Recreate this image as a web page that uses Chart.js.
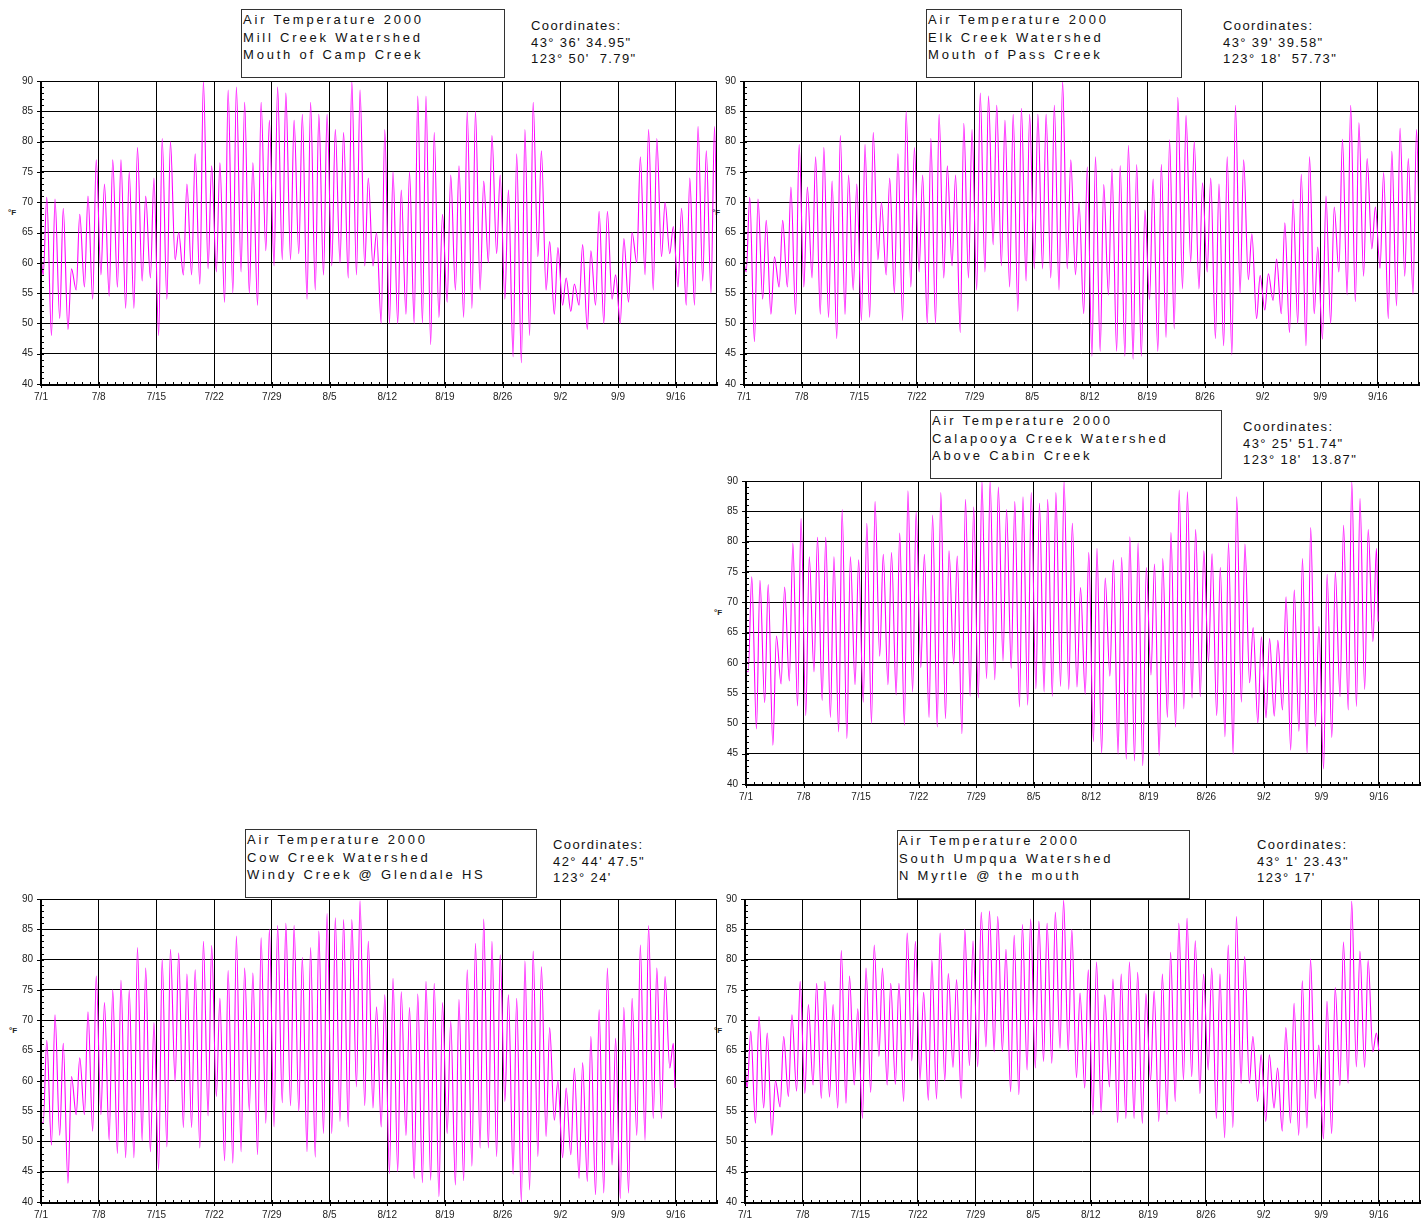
<!DOCTYPE html>
<html>
<head>
<meta charset="utf-8">
<title>Air Temperature 2000</title>
<script src="https://cdn.jsdelivr.net/npm/chart.js@4.4.1/dist/chart.umd.min.js"></script>
<style>
body { margin: 0; background: #fff; width: 1422px; height: 1218px; position: relative; overflow: hidden;
       font-family: Arial, "Liberation Sans", sans-serif; color: #111; }
.plot { position: absolute; }
.box { position: absolute; border: 1px solid #333; box-sizing: border-box; padding: 1px 0 0 1px;
       font-size: 13px; letter-spacing: 2.8px; line-height: 17.5px; white-space: nowrap; }
.coord { position: absolute; font-size: 13px; letter-spacing: 1.4px; line-height: 16.5px; white-space: pre; }
.unit { position: absolute; font-size: 8px; font-weight: bold; color: #222; }
</style>
</head>
<body>

<div class="box" style="left:241px;top:9px;width:264px;height:69px">Air Temperature 2000<br>Mill Creek Watershed<br>Mouth of Camp Creek</div>
<div class="coord" style="left:531px;top:18px">Coordinates:
43° 36' 34.95"
123° 50'  7.79"</div>

<div class="box" style="left:926px;top:9px;width:256px;height:69px">Air Temperature 2000<br>Elk Creek Watershed<br>Mouth of Pass Creek</div>
<div class="coord" style="left:1223px;top:18px">Coordinates:
43° 39' 39.58"
123° 18'  57.73"</div>

<div class="box" style="left:930px;top:410px;width:292px;height:69px">Air Temperature 2000<br>Calapooya Creek Watershed<br>Above Cabin Creek</div>
<div class="coord" style="left:1243px;top:419px">Coordinates:
43° 25' 51.74"
123° 18'  13.87"</div>

<div class="box" style="left:245px;top:829px;width:292px;height:69px">Air Temperature 2000<br>Cow Creek Watershed<br>Windy Creek @ Glendale HS</div>
<div class="coord" style="left:553px;top:837px">Coordinates:
42° 44' 47.5"
123° 24'</div>

<div class="box" style="left:897px;top:830px;width:293px;height:69px">Air Temperature 2000<br>South Umpqua Watershed<br>N Myrtle @ the mouth</div>
<div class="coord" style="left:1257px;top:837px">Coordinates:
43° 1' 23.43"
123° 17'</div>

<div class="unit" style="left:8px;top:208px">°F</div>
<div class="unit" style="left:712px;top:208px">°F</div>
<div class="unit" style="left:714px;top:608px">°F</div>
<div class="unit" style="left:9px;top:1026px">°F</div>
<div class="unit" style="left:714px;top:1026px">°F</div>

<div class="plot" id="p0"><canvas id="c0"></canvas></div>
<div class="plot" id="p1"><canvas id="c1"></canvas></div>
<div class="plot" id="p2"><canvas id="c2"></canvas></div>
<div class="plot" id="p3"><canvas id="c3"></canvas></div>
<div class="plot" id="p4"><canvas id="c4"></canvas></div>

<script>
// axis labels
var dayLabels = ['7/1', '7/8', '7/15', '7/22', '7/29', '8/5', '8/12', '8/19', '8/26', '9/2', '9/9', '9/16'];
var tickDays = [0, 7, 14, 21, 28, 35, 42, 49, 56, 63, 70, 77];
var tempTicks = [40, 45, 50, 55, 60, 65, 70, 75, 80, 85, 90];

// daily low / high (°F), day 0 = 7/1
var millLow = [58, 48, 50.8, 49, 55.5, 56, 54, 58, 54.5, 56,
    52.5, 52.5, 57, 57.5, 48, 54, 60.5, 58, 58, 56.5,
    59, 58.5, 53.5, 55, 58.5, 55, 53, 62, 59.5, 60.5,
    60.5, 61.5, 54, 55.5, 58, 59.5, 60, 57.5, 58, 59.5,
    59.5, 50, 50, 50, 51.5, 50, 50, 46.5, 51, 53.5,
    55.5, 51, 52.5, 55.5, 60, 61.5, 54, 44.5, 43.5, 48,
    61, 55.5, 51.5, 53, 52, 53, 49, 53, 50, 54,
    50, 53.5, 60, 58, 55.5, 61, 61.5, 56, 53, 53,
    57, 55];
var millHigh = [70.8, 70.5, 69, 59, 68, 71, 77, 73, 77, 77,
    75, 79, 71, 74, 80.5, 80, 65, 73, 78, 90,
    76, 76.5, 88.5, 89, 86.5, 76.5, 86.5, 83.5, 89, 88,
    83.5, 84.5, 86.5, 84.5, 84.5, 82, 81.5, 90, 88.5, 74,
    65, 82, 75, 72, 75, 87.5, 87.5, 81.5, 68, 74.5,
    76, 85, 85, 73.5, 81, 74.5, 72, 78, 82, 86.5,
    78.5, 63.5, 62.5, 57.5, 56.5, 63, 62, 68.5, 68.5, 58,
    64, 65, 77.5, 82, 80.5, 70, 66, 69, 74, 82.5,
    78.5, 82.5];

var elkLow = [58.5, 47, 54, 51.5, 56, 56, 51.5, 56, 57.5, 51.5,
    51, 47.5, 51.5, 55.5, 50.5, 51, 60.5, 58, 55, 50.5,
    56, 58.5, 50, 50, 57.5, 59.5, 48.5, 57.5, 55.5, 58.5,
    63, 59.5, 56, 52, 57, 59, 59, 57.5, 55.5, 59,
    58, 51.6, 44.6, 45.4, 54.7, 45.4, 44.6, 44.1, 44.6, 53.9,
    45.4, 47.7, 49.1, 55.7, 60.1, 55.7, 58.5, 47.5, 46.3, 44.8,
    55, 57.2, 50.8, 52.2, 53.8, 51.6, 48.5, 50, 46.3, 51.6,
    47.4, 50, 58.5, 54.7, 53.6, 57.8, 62.3, 59.1, 50.8, 52.9,
    57.8, 54.8];
var elkHigh = [70.8, 70.5, 67, 61, 67, 72.5, 79.5, 72.5, 77.5, 79,
    73.5, 81, 74.5, 73, 79.5, 81.5, 70, 74, 78, 85,
    79, 74.5, 80.5, 84.5, 76, 74.5, 83, 82, 88, 87.5,
    86, 83.5, 84.5, 85.5, 84.5, 84.5, 84.5, 86, 90, 77,
    70, 75.8, 77.5, 72.9, 75.5, 76, 79.4, 76.2, 68.7, 73.8,
    76.2, 80.3, 87.3, 84.3, 80, 73.2, 74, 73, 77.5, 86,
    77, 64.8, 57.9, 58.2, 60.6, 66.6, 70.4, 74.6, 77.5, 62.6,
    71, 69.2, 80.4, 86, 83.1, 77.2, 69.2, 74.9, 78.4, 82.2,
    77.2, 82];

var calaLow = [58.5, 49.1, 53.4, 46.4, 56.5, 57, 52.9, 51.3, 58.5, 53.8,
    51, 48.6, 47.5, 56.4, 53.5, 50, 61.1, 56.4, 54.7, 49.7,
    55.2, 59.2, 51, 49.4, 50.8, 59.8, 48.3, 54.5, 54.2, 57.4,
    57.2, 60.3, 59.1, 52.7, 53, 55.7, 55.2, 54.5, 56.1, 55.6,
    56, 54.8, 47, 45.1, 57.8, 44.9, 44.1, 43.8, 43, 58,
    44.7, 51, 49.4, 52.4, 54.2, 54.4, 60.1, 51.3, 47.8, 44.9,
    53.5, 56.7, 50.1, 50.9, 51.2, 52.2, 45.6, 48.7, 45.1, 49.5,
    42.5, 47.7, 54.4, 52.2, 52.8, 55.6, 63.5];
var calaHigh = [74.2, 73.6, 72.9, 64.4, 72.5, 79.7, 83.8, 77.5, 80.7, 80.7,
    77.5, 85.3, 77.5, 77, 83, 86.6, 77.9, 78.2, 81.4, 88.4,
    84.9, 77.9, 84.4, 88.1, 78.5, 77.6, 87, 85.7, 90, 90,
    89, 85.3, 86.6, 87.4, 88.1, 86.3, 87, 88.1, 90, 83,
    72.4, 78.2, 78.9, 74, 77, 77.4, 80.8, 79.8, 75.7, 76.3,
    77.2, 81.5, 88.5, 88.2, 82, 78.5, 78, 75.7, 79.8, 87.4,
    79.6, 65.8, 64.3, 64, 63.7, 70.9, 72, 77.2, 82.3, 66,
    74.6, 75, 82.7, 89.9, 87.1, 82, 78.9];

var cowLow = [53, 49.4, 51, 43.1, 54.4, 54.4, 51.7, 54.4, 50.2, 48,
    47.3, 47.3, 50.1, 48.3, 45.3, 49.1, 59.9, 52.3, 52.3, 48.9,
    54.2, 57.4, 46.8, 46.4, 48.3, 55, 47.8, 53, 52.4, 56.4,
    55.9, 55, 48.3, 47.4, 51.3, 51.3, 53.3, 52.4, 59, 55.9,
    55.5, 52.4, 44.7, 45, 51, 43.9, 43.2, 43.6, 40.9, 51.3,
    42.8, 43.5, 45.9, 48.9, 48.9, 47.5, 56.6, 44.6, 40, 42,
    47.5, 50.8, 53.5, 47.3, 47.8, 43.9, 43.4, 41.2, 41.5, 46.1,
    40.6, 41.5, 51, 50.2, 53.8, 53.8, 62.1];
var cowHigh = [66.7, 70.9, 66.2, 60.7, 63.8, 71.4, 77.3, 72.9, 75, 76.6,
    75, 82, 78.6, 69.6, 80.1, 81.7, 81.1, 77.6, 78.3, 83,
    82.3, 73.6, 78.2, 83.9, 78.6, 77.8, 83.6, 85, 85.6, 86,
    85.6, 80.4, 82, 84.7, 87.6, 86.9, 86.6, 86.6, 89.7, 83,
    72.2, 74.2, 76.9, 74.7, 72.1, 74.3, 76.4, 76.1, 72.9, 69.9,
    73.4, 78.3, 82.7, 86.7, 83, 80.8, 74.2, 73.6, 79.8, 81.4,
    78.8, 68.8, 60, 58.8, 62.1, 63, 67.3, 71.7, 78.6, 67,
    72.1, 73.6, 82.4, 85.6, 78.6, 77.2, 66.2];

var umpLow = [58.8, 53, 55.5, 51, 55.7, 57.4, 58.3, 57.9, 59.3, 57.1,
    57.3, 55.5, 56.3, 59.3, 53.8, 58.1, 64, 59.3, 59.4, 56.6,
    63.3, 60.1, 56.8, 57, 60, 62.2, 57.1, 62.5, 62.3, 65.6,
    64.8, 64.8, 58.2, 57.7, 61.8, 62.1, 63.2, 62.9, 65.4, 64.8,
    60.5, 58.8, 54.4, 54.8, 59, 53.1, 53.8, 53.8, 53, 60,
    53.3, 54.5, 56.6, 60.1, 60.7, 57.9, 61.8, 53.8, 50.6, 52.3,
    59.6, 59.6, 56.6, 53.3, 55.5, 51.7, 53, 51, 52.2, 57.1,
    50.4, 51.3, 59.2, 59.6, 62.3, 62.2, 64.8];
var umpHigh = [68.2, 70.6, 67.9, 60, 67.3, 70.9, 76.4, 72.6, 76.1, 76.4,
    72.6, 81.5, 77.3, 71.9, 78.6, 82.4, 78.6, 76.1, 76.1, 84.4,
    83, 74.6, 79.9, 84.4, 77.7, 76.7, 85, 83.1, 87.8, 88,
    87.1, 81.7, 84, 85.8, 86.7, 86.3, 86, 87.8, 89.8, 85,
    74.5, 78.3, 79.6, 74.2, 76.8, 77.6, 79.6, 77.9, 74.4, 74.8,
    77.6, 81.2, 86, 86.8, 83.1, 77.6, 78.6, 77.6, 82.4, 87.1,
    80.5, 67.3, 64.3, 64.3, 62.1, 68.8, 72.8, 76.5, 80.1, 65.9,
    73.1, 75.4, 82.9, 89.6, 81.4, 79.9, 67.9];

// first and last reading of each record, and the day of the last reading
var firstTemp = [61, 60, 58.7, 53.3, 62.6];
var lastTemp = [62, 67.8, 66.8, 58.8, 65];
var lastDay = [82, 82, 76.9, 76.9, 77];

var lows = [millLow, elkLow, calaLow, cowLow, umpLow];
var highs = [millHigh, elkHigh, calaHigh, cowHigh, umpHigh];

// plot areas on the page: left, top, right, bottom
var areas = [
    [41, 81, 717, 384],
    [744, 81, 1419, 384],
    [746, 481, 1420, 784],
    [41, 899, 717, 1202],
    [745, 899, 1420, 1202]
];

// y-axis width, x-axis height, top padding (incl. the label overhang Chart.js adds), right padding
var YW = 40, XH = 22, PT = 14, PR = 2;

function buildPoints(i) {
    var pts = [{x: 0, y: firstTemp[i]}];
    for (var d = 0; d < lows[i].length; d++) {
        pts.push({x: d + 0.27, y: lows[i][d]});
        pts.push({x: d + 0.7, y: highs[i][d]});
    }
    pts.push({x: lastDay[i], y: lastTemp[i]});
    return pts;
}

var axisMarks = {
    id: 'axisMarks',
    afterDraw: function (chart) {
        var ctx = chart.ctx, a = chart.chartArea, x = chart.scales.x, y = chart.scales.y;
        ctx.save();
        ctx.strokeStyle = '#000';
        ctx.lineWidth = 1;
        ctx.beginPath();
        for (var d = 0; d <= 82; d++) {
            var px = Math.round(x.getPixelForValue(d)) + 0.5;
            ctx.moveTo(px, a.bottom - 2);
            ctx.lineTo(px, a.bottom + (d % 7 === 0 ? 4 : 2));
        }
        for (var t = 40; t <= 90; t++) {
            var py = Math.round(y.getPixelForValue(t)) + 0.5;
            ctx.moveTo(a.left - (t % 5 === 0 ? 4 : 0), py);
            ctx.lineTo(a.left + 3, py);
        }
        ctx.stroke();
        ctx.strokeRect(Math.round(a.left) + 0.5, Math.round(a.top) + 0.5,
            Math.round(a.right - a.left) - 1, Math.round(a.bottom - a.top));
        ctx.lineWidth = 2;
        ctx.beginPath();
        ctx.moveTo(Math.round(a.left), a.top);
        ctx.lineTo(Math.round(a.left), a.bottom + 1);
        ctx.lineTo(a.right, a.bottom + 1);
        ctx.stroke();
        ctx.restore();
    }
};

for (var i = 0; i < 5; i++) {
    var r = areas[i];
    var box = document.getElementById('p' + i);
    box.style.left = (r[0] - YW) + 'px';
    box.style.top = (r[1] - PT) + 'px';
    box.style.width = (r[2] - r[0] + YW + PR) + 'px';
    box.style.height = (r[3] - r[1] + PT + XH) + 'px';

    new Chart(document.getElementById('c' + i), {
        type: 'line',
        data: {
            datasets: [{
                data: buildPoints(i),
                borderColor: '#ff00ff',
                borderWidth: 1.1,
                pointRadius: 0,
                cubicInterpolationMode: 'monotone'
            }]
        },
        options: {
            responsive: true,
            maintainAspectRatio: false,
            animation: false,
            parsing: false,
            layout: {padding: {top: PT - 6, right: PR, left: 0, bottom: 0}},
            plugins: {legend: {display: false}, tooltip: {enabled: false}},
            scales: {
                x: {
                    type: 'linear',
                    min: 0,
                    max: 82,
                    afterBuildTicks: function (s) { s.ticks = tickDays.map(function (v) { return {value: v}; }); },
                    afterFit: function (s) { s.height = XH; },
                    grid: {color: '#000', lineWidth: 1, drawTicks: false},
                    border: {display: false},
                    ticks: {
                        autoSkip: false,
                        maxRotation: 0,
                        padding: 7,
                        color: '#222',
                        font: {family: 'Arial, "Liberation Sans"', size: 10},
                        callback: function (v) { return dayLabels[tickDays.indexOf(v)]; }
                    }
                },
                y: {
                    min: 40,
                    max: 90,
                    afterBuildTicks: function (s) { s.ticks = tempTicks.map(function (v) { return {value: v}; }); },
                    afterFit: function (s) { s.width = YW; },
                    grid: {color: '#000', lineWidth: 1, drawTicks: false},
                    border: {display: false},
                    ticks: {
                        padding: 8,
                        color: '#222',
                        font: {family: 'Arial, "Liberation Sans"', size: 10}
                    }
                }
            }
        },
        plugins: [axisMarks]
    });
}
</script>
</body>
</html>
